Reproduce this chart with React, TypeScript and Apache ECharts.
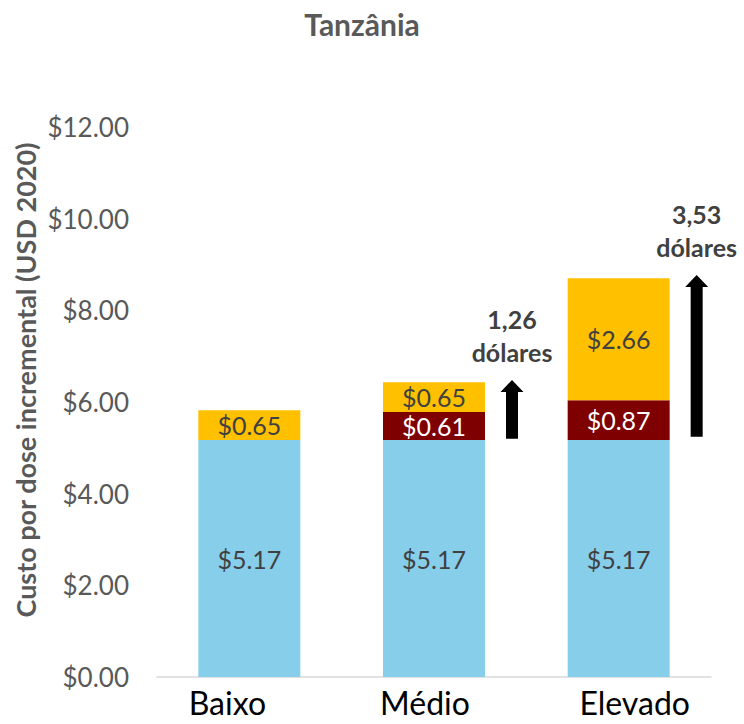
import React, { useEffect, useRef } from "react";
import * as echarts from "echarts";

const categories = ["Baixo", "Médio", "Elevado"];
const baseCost = [5.17, 5.17, 5.17];
const midCost = [null, 0.61, 0.87];
const topCost = [0.65, 0.65, 2.66];
const yTicks = [0, 2, 4, 6, 8, 10, 12];
// arrows: [category index, start value, end value, label]
const arrows: [number, number, number, string][] = [
  [1, 5.2, 6.48, "1,26"],
  [2, 5.24, 8.77, "3,53"],
];

const FONT = "Lato, 'Noto Sans', sans-serif";

export default function App() {
  const ref = useRef<HTMLDivElement>(null);
  useEffect(() => {
    if (!ref.current) return;
    const chart = echarts.init(ref.current, undefined, { renderer: "svg" });
    const fmt = (p: any) => (p.value == null ? "" : "$" + Number(p.value).toFixed(2));
    const labelStyle = (color: string) => ({
      show: true,
      position: "inside",
      formatter: fmt,
      color,
      fontSize: 25,
      fontFamily: FONT,
    });
    const catStyle = { color: "#000", fontSize: 32, fontFamily: FONT, lineHeight: 32 };
    chart.setOption({
      animation: false,
      textStyle: { fontFamily: FONT },
      title: {
        text: "Tanzânia",
        left: 357,
        top: 4,
        textAlign: "center",
        textStyle: { fontSize: 30, fontWeight: "bold", color: "#595959", fontFamily: FONT },
      },
      grid: { left: 157, right: 33, top: 127, bottom: 47, outerBoundsMode: "none", containLabel: false },
      graphic: [
        {
          type: "text",
          x: 25,
          y: 380,
          rotation: Math.PI / 2,
          style: {
            text: "Custo por dose incremental (USD 2020)",
            fontSize: 27,
            fontWeight: "bold",
            fill: "#595959",
            fontFamily: FONT,
            textAlign: "center",
            textVerticalAlign: "middle",
          },
        },
      ],
      xAxis: {
        type: "category",
        data: categories,
        axisLine: { lineStyle: { color: "#D9D9D9", width: 1.5 } },
        axisTick: { show: false },
        axisLabel: {
          ...catStyle,
          interval: 0,
          hideOverlap: false,
          margin: 9,
          formatter: (v: string, i: number) => `{c${i}|${v}}`,
          rich: {
            c0: { ...catStyle, padding: [0, 44, 0, 0] },
            c1: { ...catStyle, padding: [0, 18, 0, 0] },
            c2: { ...catStyle, padding: [0, 0, 0, 32] },
          },
        },
      },
      yAxis: {
        type: "value",
        min: yTicks[0],
        max: yTicks[yTicks.length - 1],
        interval: 2,
        splitLine: { show: false },
        axisLine: { show: false },
        axisTick: { show: false },
        axisLabel: {
          color: "#595959",
          fontSize: 26,
          margin: 28,
          fontFamily: FONT,
          formatter: (v: number) => "$" + v.toFixed(2),
        },
      },
      series: [
        {
          type: "bar",
          stack: "s",
          data: baseCost,
          barWidth: 102,
          itemStyle: { color: "#87CEEB" },
          label: labelStyle("#404040"),
        },
        {
          type: "bar",
          stack: "s",
          data: midCost,
          itemStyle: { color: "#7F0000" },
          label: labelStyle("#FFFFFF"),
        },
        {
          type: "bar",
          stack: "s",
          data: topCost,
          itemStyle: { color: "#FFC000" },
          label: labelStyle("#404040"),
        },
        {
          type: "custom",
          data: arrows,
          z: 10,
          renderItem: (params: any, api: any) => {
            const idx = api.value(0);
            const p0 = api.coord([idx, api.value(1)]);
            const p1 = api.coord([idx, api.value(2)]);
            const x = p0[0] + 78;
            const yb = p0[1];
            const yt = p1[1];
            const sw = 6;
            const hw = 11.5;
            const hh = 12;
            const label = arrows[params.dataIndex][3];
            return {
              type: "group",
              children: [
                {
                  type: "polygon",
                  shape: {
                    points: [
                      [x - sw, yb],
                      [x - sw, yt + hh],
                      [x - hw, yt + hh],
                      [x, yt],
                      [x + hw, yt + hh],
                      [x + sw, yt + hh],
                      [x + sw, yb],
                    ],
                  },
                  style: { fill: "#000" },
                },
                {
                  type: "text",
                  x: x,
                  y: yt - 12,
                  style: {
                    text: label + "\ndólares",
                    fontSize: 25,
                    fontWeight: "bold",
                    fill: "#404040",
                    fontFamily: FONT,
                    lineHeight: 33,
                    textAlign: "center",
                    textVerticalAlign: "bottom",
                  },
                },
              ],
            };
          },
        },
      ],
    });
    return () => chart.dispose();
  }, []);
  return <div ref={ref} style={{ width: 744, height: 724, position: "absolute", left: 0, top: 0 }} />;
}
